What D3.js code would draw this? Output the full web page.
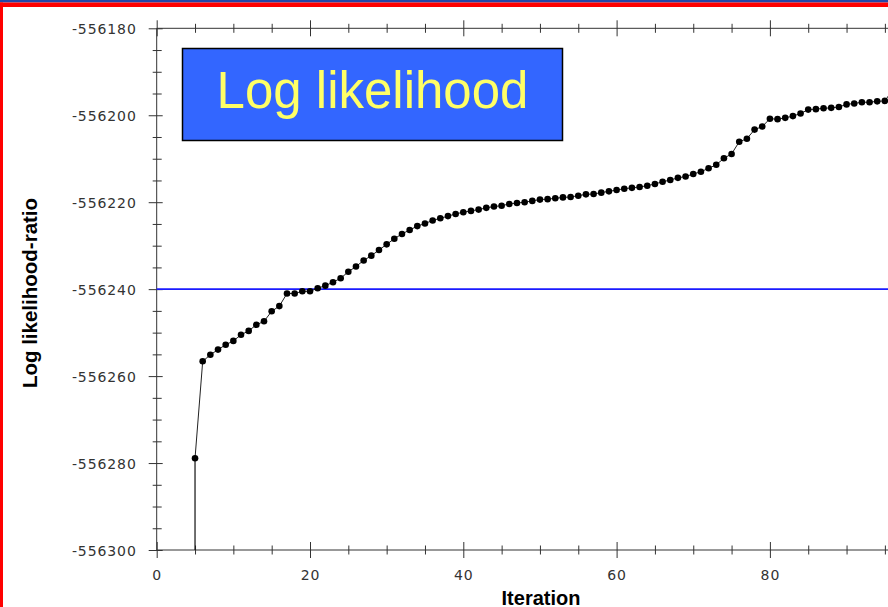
<!DOCTYPE html>
<html>
<head>
<meta charset="utf-8">
<script src="https://cdn.jsdelivr.net/npm/d3@7"></script>
<style>
  html, body { margin: 0; padding: 0; background: #ffffff; }
  svg { display: block; }
</style>
</head>
<body>
<svg id="chart" width="888" height="607"></svg>
<script>
// ---- data ----
const iterations = [5,6,7,8,9,10,11,12,13,14,15,16,17,18,19,20,21,22,23,24,25,26,27,28,29,30,31,32,33,34,35,36,37,38,39,40,41,42,43,44,45,46,47,48,49,50,51,52,53,54,55,56,57,58,59,60,61,62,63,64,65,66,67,68,69,70,71,72,73,74,75,76,77,78,79,80,81,82,83,84,85,86,87,88,89,90,91,92,93,94,95,96];
const logLik = [
  -556278.9,-556256.6,-556255.1,-556253.9,-556252.8,-556251.9,-556250.5,-556249.6,-556248.2,-556247.4,
  -556245.1,-556243.9,-556241.0,-556241.0,-556240.5,-556240.5,-556239.8,-556239.2,-556238.4,-556237.5,
  -556236.0,-556234.8,-556233.4,-556232.3,-556231.0,-556229.7,-556228.4,-556227.3,-556226.4,-556225.5,
  -556224.9,-556224.2,-556223.7,-556223.2,-556222.7,-556222.3,-556222.0,-556221.7,-556221.3,-556221.0,
  -556220.8,-556220.4,-556220.2,-556220.0,-556219.7,-556219.4,-556219.3,-556219.1,-556218.9,-556218.8,
  -556218.5,-556218.2,-556218.1,-556217.8,-556217.5,-556217.2,-556216.9,-556216.7,-556216.5,-556216.2,
  -556215.8,-556215.3,-556214.9,-556214.4,-556214.1,-556213.5,-556213.0,-556212.2,-556211.4,-556209.9,
  -556208.9,-556206.1,-556205.4,-556203.3,-556202.6,-556200.8,-556200.9,-556200.6,-556200.2,-556199.6,
  -556198.7,-556198.6,-556198.4,-556198.3,-556198.1,-556197.5,-556197.3,-556197.0,-556197.0,-556196.8,
  -556196.7,-556194.2
];
const referenceLevel = -556240;
const xLabeledTicks = [0,20,40,60,80];
const xMajorTicks = [0,20,40,60,80,100];
const xMinorTicks = [5,10,15,25,30,35,45,50,55,65,70,75,85,90,95];
const yMajorTicks = [-556300,-556280,-556260,-556240,-556220,-556200,-556180];
const yTickLabels = ["-556300","-556280","-556260","-556240","-556220","-556200","-556180"];
const yMinorTicks = [-556295,-556290,-556285,-556275,-556270,-556265,-556255,-556250,-556245,-556235,-556230,-556225,-556215,-556210,-556205,-556195,-556190,-556185];
const legendText = "Log likelihood";
const xTitle = "Iteration";
const yTitle = "Log likelihood-ratio";

// ---- drawing ----
const svg = d3.select("#chart");
const W = 888, H = 607;
const x = d3.scaleLinear().domain([0, 100]).range([156.7, 923.2]);
const y = d3.scaleLinear().domain([-556300, -556180]).range([550, 28.3]);
const axisColor = "#333";
const tickFont = "'DejaVu Sans', Verdana, sans-serif";

// frame decoration (slide border)
svg.append("rect").attr("x",0).attr("y",0).attr("width",W).attr("height",2.5).attr("fill","#2447a8");
svg.append("rect").attr("x",0).attr("y",2.5).attr("width",W).attr("height",4.5).attr("fill","#ff0000");
svg.append("rect").attr("x",0).attr("y",2.5).attr("width",3).attr("height",H).attr("fill","#ff0000");

const x0 = x.range()[0], y0 = y.range()[0], yTop = y.range()[1];

// bottom axis labels
const gxL = svg.append("g").attr("transform", `translate(0,${y0})`)
  .call(d3.axisBottom(x).tickValues(xLabeledTicks).tickFormat(d3.format("d")).tickSize(0).tickPadding(0));
gxL.select(".domain").remove();
gxL.selectAll(".tick line").remove();
gxL.selectAll(".tick text").attr("y", 30).attr("dy", 0)
  .attr("font-family", tickFont).attr("font-size", 14).attr("fill", "#333").attr("letter-spacing", "0.9px");
// bottom major ticks
const gxB = svg.append("g").attr("transform", `translate(0,${y0})`)
  .call(d3.axisBottom(x).tickValues(xMajorTicks).tickFormat("").tickSize(0));
gxB.select(".domain").remove();
gxB.selectAll(".tick line").remove();
gxB.selectAll(".tick").append("line").attr("y1",-8).attr("y2",8).attr("stroke",axisColor);
const gxBm = svg.append("g").attr("transform", `translate(0,${y0})`)
  .call(d3.axisBottom(x).tickValues(xMinorTicks).tickFormat("").tickSize(0));
gxBm.select(".domain").remove();
gxBm.selectAll(".tick line").remove();
gxBm.selectAll(".tick").append("line").attr("y1",-4.5).attr("y2",4.5).attr("stroke",axisColor);

// top axis (mirror ticks only)
const gxT = svg.append("g").attr("transform", `translate(0,${yTop})`)
  .call(d3.axisTop(x).tickValues(xMajorTicks).tickFormat("").tickSize(0));
gxT.select(".domain").remove();
gxT.selectAll(".tick line").remove();
gxT.selectAll(".tick").append("line").attr("y1",-8).attr("y2",8).attr("stroke",axisColor);
const gxTm = svg.append("g").attr("transform", `translate(0,${yTop})`)
  .call(d3.axisTop(x).tickValues(xMinorTicks).tickFormat("").tickSize(0));
gxTm.select(".domain").remove();
gxTm.selectAll(".tick line").remove();
gxTm.selectAll(".tick").append("line").attr("y1",-4.5).attr("y2",4.5).attr("stroke",axisColor);

// left axis
const gy = svg.append("g").attr("transform", `translate(${x0},0)`)
  .call(d3.axisLeft(y).tickValues(yMajorTicks).tickFormat((d,i) => yTickLabels[i]).tickSize(0).tickPadding(20));
gy.select(".domain").remove();
gy.selectAll(".tick line").remove();
gy.selectAll(".tick").append("line").attr("x1",-8).attr("x2",6).attr("stroke",axisColor);
gy.selectAll(".tick text").attr("font-family", tickFont).attr("font-size", 14).attr("fill", "#333")
  .attr("letter-spacing", "0.9px").attr("dy","0.36em");
const gym = svg.append("g").attr("transform", `translate(${x0},0)`)
  .call(d3.axisLeft(y).tickValues(yMinorTicks).tickFormat("").tickSize(0));
gym.select(".domain").remove();
gym.selectAll(".tick line").remove();
gym.selectAll(".tick").append("line").attr("x1",-4).attr("x2",5).attr("stroke",axisColor);

// axis lines
svg.append("line").attr("x1",x0).attr("x2",W).attr("y1",y0).attr("y2",y0).attr("stroke",axisColor);
svg.append("line").attr("x1",x0).attr("x2",W).attr("y1",yTop).attr("y2",yTop).attr("stroke",axisColor);
svg.append("line").attr("x1",x0).attr("x2",x0).attr("y1",yTop).attr("y2",y0).attr("stroke",axisColor);

// reference line
svg.append("line").attr("x1",x0).attr("x2",W)
  .attr("y1",y(referenceLevel)).attr("y2",y(referenceLevel))
  .attr("stroke","#1a1aff").attr("stroke-width",1.6);

// data
const data = iterations.map((it,i) => ({it, v: logLik[i]}));
// drop line from first point to axis
svg.append("line").attr("x1",x(data[0].it)).attr("x2",x(data[0].it))
  .attr("y1",y(data[0].v)).attr("y2",y0).attr("stroke","#111").attr("stroke-width",1.2);
svg.append("path").datum(data)
  .attr("d", d3.line().x(d => x(d.it)).y(d => y(d.v)))
  .attr("fill","none").attr("stroke","#222").attr("stroke-width",1);
svg.append("g").selectAll("circle").data(data).join("circle")
  .attr("cx", d => x(d.it)).attr("cy", d => y(d.v)).attr("r", 3.3).attr("fill","#000");

// legend box
svg.append("rect").attr("x",182.5).attr("y",48.5).attr("width",380).attr("height",92)
  .attr("fill","#3366ff").attr("stroke","#000").attr("stroke-width",1.5);
svg.append("text").attr("x",372.5).attr("y",108).attr("text-anchor","middle")
  .attr("font-family","'Liberation Sans', Arial, sans-serif").attr("font-size",51)
  .attr("fill","#ffff66").text(legendText);

// axis titles
svg.append("text").attr("x",541).attr("y",604.5).attr("text-anchor","middle")
  .attr("font-family","'Liberation Sans', Arial, sans-serif").attr("font-weight","bold")
  .attr("font-size",20).attr("fill","#000").text(xTitle);
svg.append("text").attr("transform","translate(37,293) rotate(-90)").attr("text-anchor","middle")
  .attr("font-family","'Liberation Sans', Arial, sans-serif").attr("font-weight","bold")
  .attr("font-size",20.5).attr("fill","#000").text(yTitle);
</script>
</body>
</html>
